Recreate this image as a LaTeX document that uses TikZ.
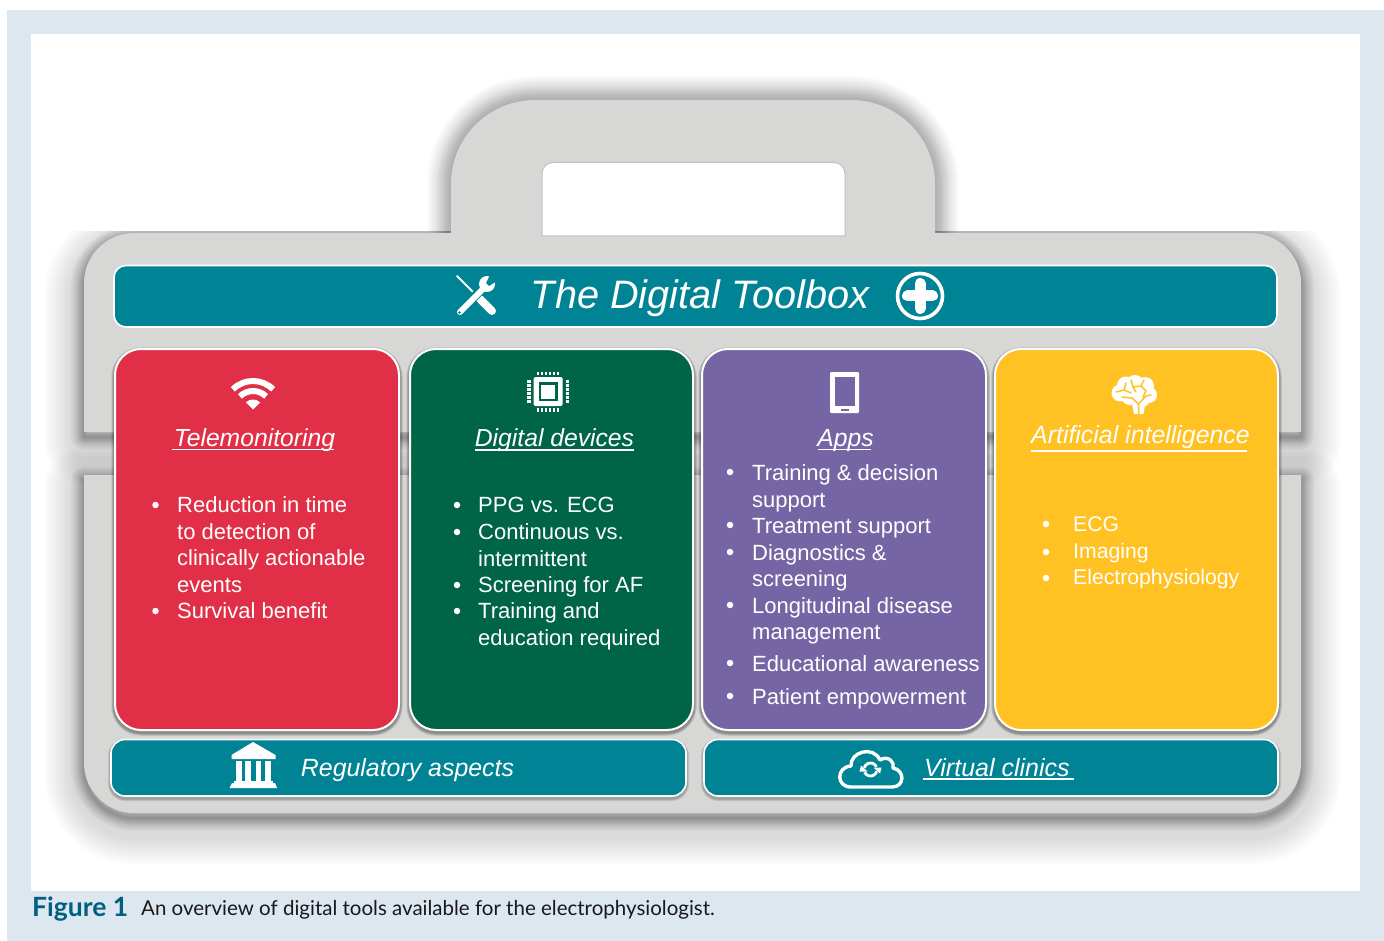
\documentclass[tikz,border=0pt]{standalone}
\usepackage{fontspec}
\setmainfont{Liberation Sans}
\newfontfamily\capfont{Lato}
\definecolor{frameblue}{HTML}{DDE7F0}
\definecolor{casegray}{HTML}{D7D7D5}
\definecolor{tealbar}{HTML}{008394}
\definecolor{cred}{HTML}{E12F47}
\definecolor{cgreen}{HTML}{006446}
\definecolor{cpurple}{HTML}{7665A4}
\definecolor{cyellow}{HTML}{FFC222}
\definecolor{capblue}{HTML}{00607F}
\tikzset{
  card/.style={fill=#1,draw=white,line width=2pt,rounded corners=26pt},
  tbar/.style={fill=tealbar,draw=white,line width=1.6pt,rounded corners=14pt},
  title/.style={anchor=base,inner sep=0pt,text=white,font=\fontsize{24.7}{28}\selectfont\itshape},
  item/.style={anchor=north west,inner sep=0pt,yshift=19.1pt,align=left,text=white,font=\fontsize{22}{26.5}\selectfont},
  bul/.style={circle,fill=white,inner sep=0pt,minimum size=6.5pt},
  uline/.style={draw=white,line width=1.6pt},
  ico/.style={fill=white,draw=none},
  casefill/.style={fill=casegray,draw=none}
}
\newcommand{\softshadow}[1]{%
  \begin{scope}[yshift=-5pt]
  \foreach \w in {2,4,6,8,10,12,14,17,20,23,26}{\draw[black,draw opacity=0.028,line width=\w pt,line join=round] #1;}
  \end{scope}
  \begin{scope}[yshift=-12pt]
  \foreach \w in {29,32,35,38,41,44,47,50,53,56,59,62,65,68,71,74,77,80}{\draw[black,draw opacity=0.009,line width=\w pt,line join=round] #1;}
  \end{scope}}
\newcommand{\handleshadow}[1]{%
  \foreach \w in {2,4,6,8,10,12,14,16,18,20,22,24,26,28,30,33,36,39,42,45,48}{\draw[black,draw opacity=0.017,line width=\w pt,line join=round] #1;}}
\newcommand{\cardshadow}[1]{%
  \foreach \w in {3,4.5,6,7.5}{\draw[black,draw opacity=0.1,line width=\w pt,rounded corners=26pt] #1;}}
\newcommand{\barshadow}[1]{%
  \foreach \w in {3,4.5,6}{\draw[black,draw opacity=0.09,line width=\w pt,rounded corners=14pt] #1;}}
\def\upperpath{(84,432) -- (84,283) .. controls (84,255.4) and (106.4,233) .. (134,233) -- (1251,233) .. controls (1278.6,233) and (1301,255.4) .. (1301,283) -- (1301,432) -- cycle}
\def\handlepath{(451,233) -- (451,184) .. controls (451,137.6) and (488.6,100) .. (535,100) -- (851,100) .. controls (897.4,100) and (935,137.6) .. (935,184) -- (935,233)}
\def\lowerpath{(84,475) -- (84,763) .. controls (84,790.6) and (106.4,813) .. (134,813) -- (1251,813) .. controls (1278.6,813) and (1301,790.6) .. (1301,763) -- (1301,475) -- cycle}
\begin{document}
\begin{tikzpicture}[x=1pt,y=-1pt]
\useasboundingbox (0,0) rectangle (1384,941);
% page frame
\fill[frameblue] (7,10) rectangle (1384,941);
\fill[white] (31,34) rectangle (1360,891);
% case shadows
\begin{scope}
\clip (84,60) rectangle (1301,233);
\handleshadow{\handlepath}
\end{scope}
\begin{scope}
\clip (31,232) rectangle (1360,891);
\softshadow{\upperpath}
\softshadow{\lowerpath}
\end{scope}
% case
\fill[casefill] \upperpath;
\fill[casefill] \handlepath -- cycle;
\fill[casefill] \lowerpath;
% handle window
\draw[fill=white,draw=black!25,line width=1pt] (542,236) -- (542,173.5) .. controls (542,167.4) and (547,162.5) .. (553,162.5) -- (834,162.5) .. controls (840,162.5) and (845,167.4) .. (845,173.5) -- (845,236) -- cycle;
% header
\draw[tbar,rounded corners=12pt] (114,265.5) rectangle (1277,327);
\node[anchor=base,inner sep=0pt,text=white,font=\fontsize{39.7}{44}\selectfont\itshape] (head) at (700,308.5) {The Digital Toolbox};
% tools icon
\draw[white,line width=2pt,line cap=round] (457,276) -- (475,294);
\draw[white,line width=8pt,line cap=round] (480,299) -- (492,311);
\draw[tealbar,line width=9pt] (462,309) -- (482,289);
\draw[white,line width=6pt,line cap=round] (460,312) -- (483,289);
\fill[white] (487,284) circle (8pt);
\fill[tealbar] (486,283) -- (490,275) -- (494,275) -- (497,278) -- (497,281) -- (489,286) -- cycle;
\fill[tealbar] (459.5,312.5) circle (1.3pt);
% plus icon
\draw[white,line width=3.6pt] (920,296) circle (22.5pt);
\draw[white,line width=11pt,line cap=round] (920,283.5) -- (920,308.5);
\draw[white,line width=11pt,line cap=round] (907.5,296) -- (932.5,296);
% card shadows
\begin{scope}[yshift=-2pt]
\cardshadow{(115,349) rectangle (399,730)}
\cardshadow{(410,349) rectangle (693,730)}
\cardshadow{(702,349) rectangle (986,730)}
\cardshadow{(995,349) rectangle (1278,730)}
\barshadow{(111,739.5) rectangle (686,796)}
\barshadow{(704,739.5) rectangle (1278,796)}
\end{scope}
% cards
\draw[card=cred] (115,349) rectangle (399,730);
\draw[card=cgreen] (410,349) rectangle (693,730);
\draw[card=cpurple] (702,349) rectangle (986,730);
\draw[card=cyellow] (995,349) rectangle (1278,730);
% bottom bars
\draw[tbar] (111,739.5) rectangle (686,796);
\draw[tbar] (704,739.5) rectangle (1278,796);
\fill[white] (222,738.5) rectangle (284,740);
\fill[white] (838,738.5) rectangle (904,740);
\fill[white] (838,795) rectangle (904,796.5);
% wifi icon
\begin{scope}[shift={(253,409.5)},y=1pt]
\foreach \r in {18.5,28.5}{\draw[white,line width=6pt] (45:\r pt) arc[start angle=45,end angle=135,radius=\r pt];}
\fill[white] (0,0) -- (45:10pt) arc[start angle=45,end angle=135,radius=10pt] -- cycle;
\end{scope}
% chip icon
\fill[white,rounded corners=1.5pt] (533.5,377) rectangle (562.5,406);
\fill[cgreen] (538.5,382) rectangle (557.5,401);
\fill[white] (541,384.5) rectangle (555,398.5);
\foreach \d in {-10,-6,-2,2,6,10}{
  \fill[white] (548+\d-1.2,371.5) rectangle (548+\d+1.2,375);
  \fill[white] (548+\d-1.2,408) rectangle (548+\d+1.2,411.5);
  \fill[white] (527,391.5+\d-1.2) rectangle (530.5,391.5+\d+1.2);
  \fill[white] (565.5,391.5+\d-1.2) rectangle (569,391.5+\d+1.2);
}
% tablet icon
\fill[white,rounded corners=1.2pt] (830,372) rectangle (859,413);
\fill[cpurple] (834.5,377) rectangle (854.5,406);
\fill[cpurple] (840.5,408.7) rectangle (848.5,410.7);
% brain icon
\fill[white] (1120,393) circle (8.5pt) (1126,385.5) circle (9pt) (1135,384) circle (9pt) (1145,386) circle (9pt) (1149,395) circle (8pt) (1142,399) circle (8pt) (1130,396) circle (9pt);
\fill[white] (1131,399) -- (1146,399) -- (1143.5,414) -- (1134,414) -- cycle;
\draw[cyellow,line width=1.5pt,line cap=round,line join=round]
  (1138.5,414) -- (1138.5,404) -- (1146,396) -- (1151,395)
  (1138.5,404) -- (1132,398) -- (1122,397)
  (1116,392) -- (1124,390) -- (1131,393)
  (1124,390) -- (1126,383)
  (1131,380) -- (1133,387) -- (1141,386) -- (1144,380)
  (1141,386) -- (1146,391) -- (1143,397)
  (1133,387) -- (1136,392);
% bank icon
\fill[white] (253,742) -- (275.5,755) -- (275.5,759) -- (231.5,759) -- (231.5,755) -- cycle;
\foreach \a/\b in {236/241.5,245/250.5,255.5/261,265/270.5}{\fill[white] (\a,761) rectangle (\b,781);}
\fill[white] (234,781) rectangle (273,783);
\fill[white] (232,783) -- (275,783) -- (277,788) -- (229.5,788) -- cycle;
% cloud icon
\draw[white,line width=3.4pt,line join=round] (851,787)
  .. controls (836,787) and (836,767) .. (851,766)
  .. controls (850,752) and (873,745) .. (880,760)
  .. controls (888,755) and (895,762) .. (893,768)
  .. controls (905,770) and (905,787) .. (892,787) -- cycle;
\begin{scope}[shift={(870.5,769.5)},y=1pt]
\draw[white,line width=2.8pt] (25:6.5pt) arc[start angle=25,end angle=165,radius=6.5pt];
\draw[white,line width=2.8pt] (205:6.5pt) arc[start angle=205,end angle=345,radius=6.5pt];
\fill[white] (3,2) -- (11,2) -- (9.5,-4) -- cycle;
\fill[white] (-3,-2) -- (-11,-2) -- (-9.5,4) -- cycle;
\end{scope}
% titles
\node[title] (t1) at (254.5,446) {Telemonitoring};
\draw[uline] (172,449.5) -- (334,449.5);
\node[title] (t2) at (554.5,446) {Digital devices};
\draw[uline] (475,450) -- (634,450);
\node[title] (t3) at (845.5,446) {Apps};
\draw[uline] (818,449.5) -- (871,449.5);
\node[title,font=\fontsize{24.9}{28}\selectfont\itshape] (t4) at (1140.5,443) {Artificial intelligence};
\draw[uline] (1031,451) -- (1247,451);
\node[title,font=\fontsize{24.9}{28}\selectfont\itshape] (t5) at (407.5,776) {Regulatory aspects};
\node[title,anchor=base west,font=\fontsize{25}{28}\selectfont\itshape] (t6) at (924,776) {Virtual clinics};
\draw[uline] (923,779) -- (1074,779);
% telemonitoring list
\node[bul] (b11) at (155.5,505) {}; \node[item] (i11) at (177,513) {\strut Reduction in time\\to detection of\\clinically actionable\\events};
\node[bul] (b12) at (155.5,611) {}; \node[item] (i12) at (177,618.5) {\strut Survival benefit};
% digital devices list
\node[bul] (b21) at (457,505) {}; \node[item] (i21) at (478,513) {\strut PPG vs. ECG};
\node[bul] (b22) at (457,532) {}; \node[item] (i22) at (478,540) {\strut Continuous vs.\\intermittent};
\node[bul] (b23) at (457,585) {}; \node[item] (i23) at (478,592.5) {\strut Screening for AF};
\node[bul] (b24) at (457,611) {}; \node[item] (i24) at (478,619) {\strut Training and\\education required};
% apps list
\node[bul] (b31) at (730,472) {}; \node[item] (i31) at (752,481) {\strut Training \& decision\\support};
\node[bul] (b32) at (730,525) {}; \node[item] (i32) at (752,534) {\strut Treatment support};
\node[bul] (b33) at (730,552) {}; \node[item] (i33) at (752,560.5) {\strut Diagnostics \&\\screening};
\node[bul] (b34) at (730,605) {}; \node[item] (i34) at (752,613.5) {\strut Longitudinal disease\\management};
\node[bul] (b35) at (730,663) {}; \node[item] (i35) at (752,671.5) {\strut Educational awareness};
\node[bul] (b36) at (730,696) {}; \node[item] (i36) at (752,704.5) {\strut Patient empowerment};
% AI list
\node[bul] (b41) at (1046,524) {}; \node[item,font=\fontsize{21.2}{26.5}\selectfont] (i41) at (1073,532) {\strut ECG};
\node[bul] (b42) at (1046,552) {}; \node[item,font=\fontsize{21.2}{26.5}\selectfont] (i42) at (1073,559) {\strut Imaging};
\node[bul] (b43) at (1046,578) {}; \node[item,font=\fontsize{21.2}{26.5}\selectfont] (i43) at (1073,585) {\strut Electrophysiology};
% caption
\node[anchor=base west,inner sep=0pt,text=capblue,font=\capfont\bfseries\fontsize{26.5}{28}\selectfont] (cf) at (32,916) {Figure 1};
\node[anchor=base west,inner sep=0pt,text=black!90,font=\capfont\fontsize{20.5}{26}\selectfont] (ct) at (141,915.5) {An overview of digital tools available for the electrophysiologist.};
\end{tikzpicture}
\end{document}
